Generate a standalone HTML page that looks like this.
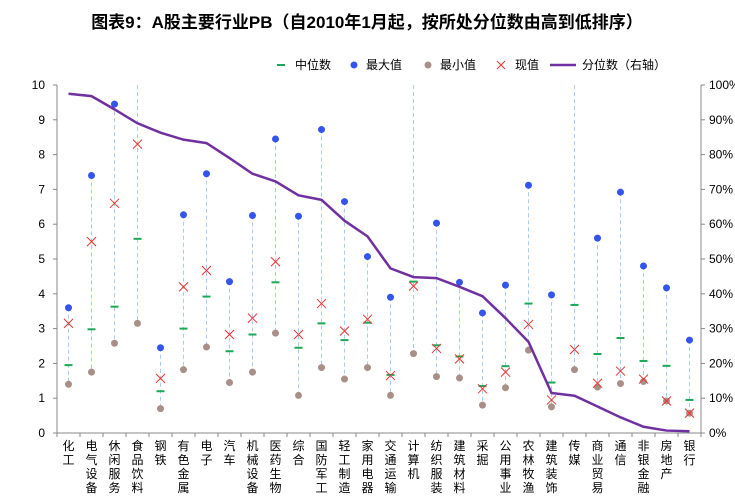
<!DOCTYPE html>
<html><head><meta charset="utf-8">
<style>
body{margin:0;background:#fff;}
svg{display:block;font-family:"Liberation Sans","Noto Sans CJK SC",sans-serif;}
</style></head>
<body>
<svg id="chart" width="735" height="500">
<text x="367" y="28" text-anchor="middle" font-size="17" font-weight="bold" fill="#000">图表9：A股主要行业PB（自2010年1月起，按所处分位数由高到低排序）</text>
<g id="legend" font-size="12" fill="#000">
<g><line x1="277" y1="65" x2="285" y2="65" stroke="#1aaa55" stroke-width="2"/><text x="295" y="69">中位数</text></g>
<g><circle cx="354" cy="65" r="3.5" fill="#3355ee"/><text x="366" y="69">最大值</text></g>
<g><circle cx="428" cy="65" r="3.5" fill="#a89088"/><text x="440" y="69">最小值</text></g>
<g><path d="M497 61l8 8M505 61l-8 8" stroke="#ee3333" stroke-width="1"/><text x="515" y="69">现值</text></g>
<g><line x1="550" y1="65" x2="576" y2="65" stroke="#7030a0" stroke-width="2.5"/><text x="582" y="69">分位数（右轴）</text></g>
</g>
<g id="axes"></g>
<g id="marks"></g>
</svg>
<script>
const categories=["化工","电气设备","休闲服务","食品饮料","钢铁","有色金属","电子","汽车","机械设备","医药生物","综合","国防军工","轻工制造","家用电器","交通运输","计算机","纺织服装","建筑材料","采掘","公用事业","农林牧渔","建筑装饰","传媒","商业贸易","通信","非银金融","房地产","银行"];
const maxVals=[3.6,7.4,9.45,12,2.45,6.27,7.45,4.35,6.25,8.45,6.23,8.72,6.65,5.07,3.9,13,6.03,4.33,3.45,4.25,7.12,3.97,12,5.6,6.92,4.8,4.17,2.67];
const minVals=[1.4,1.75,2.58,3.15,0.7,1.82,2.47,1.45,1.75,2.87,1.08,1.88,1.55,1.88,1.08,2.28,1.62,1.58,0.8,1.3,2.38,0.75,1.82,1.32,1.42,1.48,0.92,0.57];
const curVals=[3.15,5.5,6.6,8.3,1.57,4.2,4.67,2.83,3.3,4.92,2.83,3.72,2.93,3.27,1.65,4.22,2.43,2.13,1.27,1.75,3.12,0.95,2.4,1.43,1.78,1.55,0.92,0.57];
const medVals=[1.95,2.98,3.63,5.58,1.2,3.0,3.92,2.35,2.83,4.33,2.45,3.15,2.67,3.17,1.67,4.35,2.52,2.2,1.35,1.92,3.72,1.45,3.68,2.27,2.73,2.07,1.93,0.95];
const pctVals=[97.5,96.8,93,89,86.3,84.3,83.3,79,74.5,72.3,68.3,67,61,56.5,47.3,44.8,44.5,42,39.3,33,26.2,11.5,10.7,7.6,4.5,1.8,0.7,0.5];
const leftTicks=[0,1,2,3,4,5,6,7,8,9,10];
const rightTicks=["0%","10%","20%","30%","40%","50%","60%","70%","80%","90%","100%"];
const NS="http://www.w3.org/2000/svg";
const X0=57,X1=701,Y0=433,Y1=85;
const bw=(X1-X0)/categories.length;
function xs(i){return X0+bw*(i+0.5);}
function yL(v){return Y0-(Math.min(v,10))/10*(Y0-Y1);}
function yR(p){return Y0-p/100*(Y0-Y1);}
function mk(tag,attrs,parent){const e=document.createElementNS(NS,tag);for(const k in attrs)e.setAttribute(k,attrs[k]);parent.appendChild(e);return e;}
const axes=document.getElementById('axes'),marks=document.getElementById('marks');
let e;
e=mk('line',{x1:X0,y1:Y1,x2:X0,y2:Y0,stroke:'#888'},axes);


e=mk('line',{x1:X1,y1:Y1,x2:X1,y2:Y0,stroke:'#888'},axes);


e=mk('line',{x1:X0,y1:Y0,x2:X1,y2:Y0,stroke:'#888'},axes);


leftTicks.forEach((t)=>{const y=yL(t);
 mk('line',{x1:X0-4,y1:y,x2:X0,y2:y,stroke:'#888'},axes);
 e=mk('text',{x:X0-12,y:y+4,'text-anchor':'end','font-size':12,fill:'#000'},axes);e.textContent=t;
 
 });
rightTicks.forEach((t,i)=>{const y=yR(i*10);
 mk('line',{x1:X1,y1:y,x2:X1+4,y2:y,stroke:'#888'},axes);
 e=mk('text',{x:X1+8,y:y+4,'font-size':12,fill:'#000'},axes);e.textContent=t;
 
 });
for(let i=0;i<=categories.length;i++){const x=X0+bw*i;mk('line',{x1:x,y1:Y0,x2:x,y2:Y0+4,stroke:'#888'},axes);}
categories.forEach((c,i)=>{const x=xs(i);
 const g=mk('g',{},axes);
 
 
 [...c].forEach((ch,j)=>{const t=mk('text',{x:x,y:Y0+17+j*14,'text-anchor':'middle','font-size':12,fill:'#000'},g);t.textContent=ch;});
 const vl=mk('line',{x1:x,y1:yL(maxVals[i]),x2:x,y2:yL(minVals[i]),stroke:'#a8cdee','stroke-width':1,'stroke-dasharray':'4,3'},marks);
 
 
});
categories.forEach((c,i)=>{const x=xs(i);
 let m=mk('line',{x1:x-4,y1:yL(medVals[i]),x2:x+4,y2:yL(medVals[i]),stroke:'#1aaa55','stroke-width':2},marks);
 
 
 if(maxVals[i]<=10){m=mk('circle',{cx:x,cy:yL(maxVals[i]),r:3.5,fill:'#3355ee'},marks);
 
 }
 m=mk('circle',{cx:x,cy:yL(minVals[i]),r:3.5,fill:'#a89088'},marks);
 
 
 const y=yL(curVals[i]);
 m=mk('path',{d:`M${x-4.5} ${y-4.5}l9 9M${x+4.5} ${y-4.5}l-9 9`,stroke:'#ee3333','stroke-width':1,fill:'none'},marks);
 
 
});
const pts=pctVals.map((p,i)=>xs(i)+','+yR(p)).join(' ');
e=mk('polyline',{points:pts,fill:'none',stroke:'#7030a0','stroke-width':2.5},marks);


</script>
</body></html>
